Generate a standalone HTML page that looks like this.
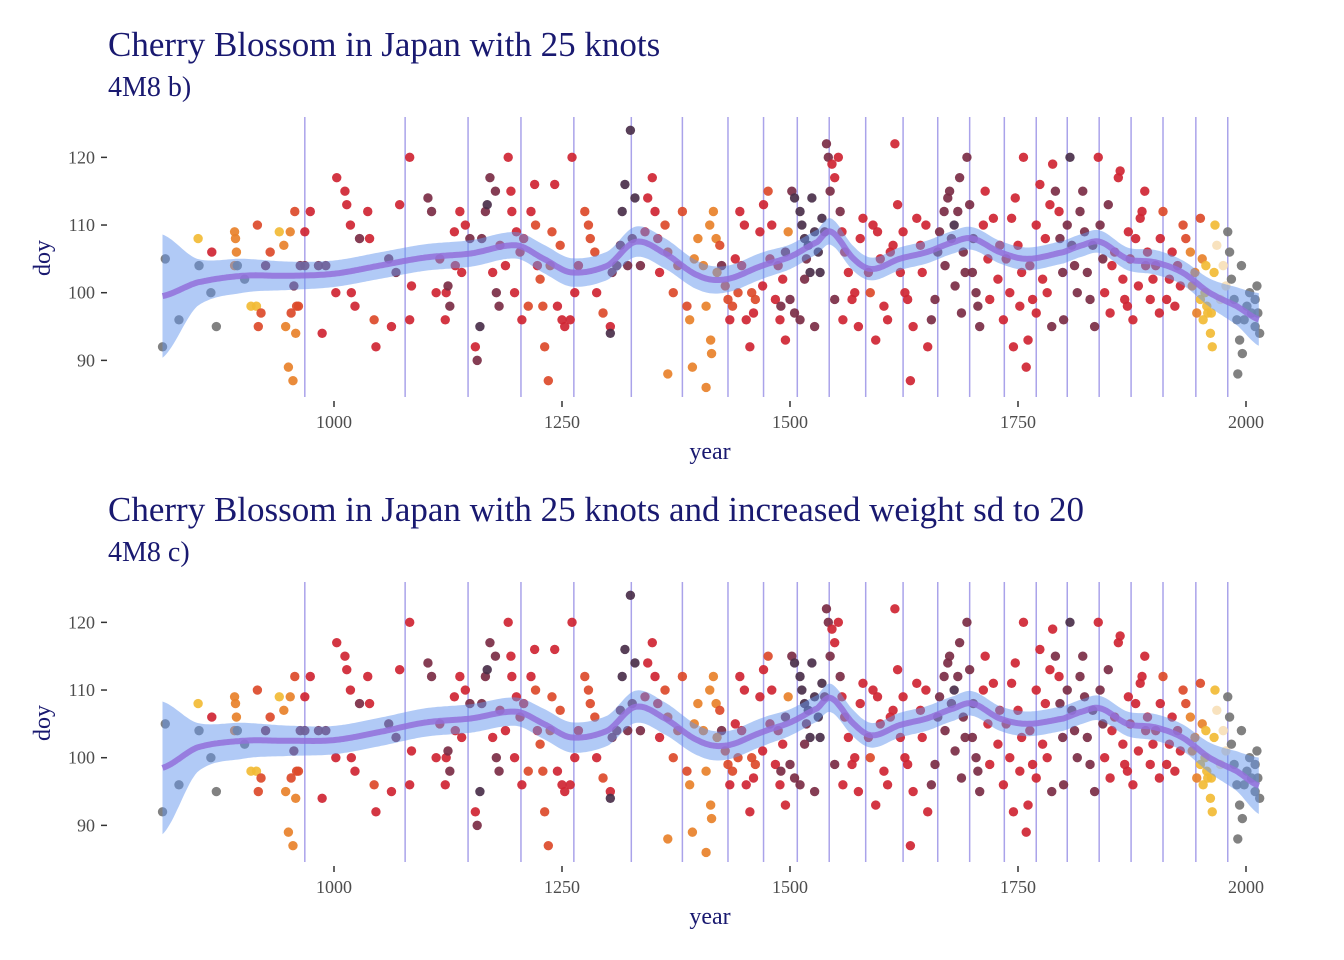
<!DOCTYPE html>
<html><head><meta charset="utf-8">
<style>
html,body{margin:0;padding:0;background:#fff;}
svg{display:block;}
</style></head>
<body>
<svg id="chart" width="1344" height="960" viewBox="0 0 1344 960" xmlns="http://www.w3.org/2000/svg"></svg>
<script>
// ---- data ----
const years = [812,815,830,851,852,866,865,871,891,892,893,891,894,902,909,915,916,917,920,925,930,940,945,947,950,952,953,955,956,957,958,959,961,963,968,974,968,983,987,991,1003,1012,1014,1018,1019,1002,1023,1028,1037,1039,1044,1046,1060,1063,1068,1072,1083,1083,1085,
1103,1107,1112,1116,1122,1123,1125,1127,1132,1133,1138,1140,1144,1149,1155,1157,1160,1162,1166,1168,1171,1174,1177,1178,1181,1182,1188,1191,1194,1195,1198,1200,1204,1206,1208,1213,1216,1220,1221,1223,1226,1229,1231,1235,1237,1239,1242,1245,1248,1250,1253,1259,1261,1264,1268,1275,1279,1281,1286,1288,1295,1303,1303,1305,1310,1314,1316,1319,1322,1325,1327,1330,1336,1341,1344,1349,1352,1355,1357,1363,1366,1366,1372,1377,1382,1387,1390,1393,1395,1399,1405,1408,1412,
1416,1419,1423,1425,1408,1413,1414,1429,1432,1434,1440,1443,1445,1450,1452,1456,1458,1462,1467,1471,1476,1478,1484,1487,1489,1492,1495,1498,1420,1437,1447,1460,1470,1480,1490,1495,
1502,1505,1511,1513,1516,1520,1518,1522,1524,1527,1531,1533,1535,1538,1500,1505,1511,1516,1527,1540,1542,1546,1549,1544,1553,1555,1557,1560,1549,1558,1564,
1568,1571,1575,1577,1580,1586,1588,1591,1594,1596,1599,1603,1607,1610,1613,1615,1618,1621,1624,1626,1629,1632,1635,1639,1643,1645,1649,1651,
1659,1662,1664,1669,1673,1675,1677,1681,1684,1686,1690,1692,1694,1697,1701,1704,1706,1708,1712,1714,1717,1719,1723,1655,1670,1680,1700,1688,
1728,1730,1734,1737,1741,1743,1747,1750,1752,1754,1756,1761,1759,1763,1766,1770,1774,1777,1780,1785,1787,1791,1788,1796,1799,1800,1745,1770,1782,1795,
1804,1807,1809,1812,1815,1818,1821,1823,1826,1829,1832,1834,1838,1840,1843,1845,1849,1851,
1853,1856,1860,1862,1865,1867,1871,1873,1876,1879,1882,1884,1886,1889,1892,1895,1898,1901,1906,1909,1913,1916,1919,1922,1925,1931,1934,1870,1890,1905,1928,
1939,1941,1944,1946,1950,1952,1950,
1955,1957,1958,1961,1963,1965,1966,1968,1972,1975,1978,1956,1953,1962,
1980,1982,1984,1987,1990,1991,1993,1996,1998,2001,2004,2006,2010,2012,2013,2015,2010,1995];
const doys = [92,105,96,108,104,106,100,95,109,108,106,104,104,102,98,98,110,95,97,104,106,109,107,95,89,109,97,87,101,112,94,98,98,104,109,112,104,104,94,104,117,115,113,110,100,100,98,108,112,108,96,92,105,95,103,113,120,96,101,
114,112,100,105,96,100,101,98,109,104,112,103,110,108,92,90,95,108,112,113,117,103,115,100,98,107,104,120,115,112,100,109,106,96,108,98,112,116,110,104,102,98,92,87,104,109,116,98,107,96,95,96,120,100,104,112,110,108,106,100,97,95,94,103,104,107,112,116,104,124,108,114,104,109,114,117,112,108,103,110,106,88,100,104,112,98,96,89,105,108,104,86,110,
112,108,107,104,98,93,91,101,99,96,105,100,112,110,96,92,100,99,109,113,115,105,99,104,96,102,93,109,103,98,104,97,101,110,98,106,
115,114,112,110,108,107,105,103,114,109,106,103,111,109,99,97,96,102,95,122,120,119,117,115,120,112,109,106,99,96,103,
99,100,95,108,111,103,100,110,93,109,105,98,96,106,107,122,113,103,109,100,99,87,95,111,107,103,110,92,
99,106,109,112,114,115,108,101,112,117,106,103,120,113,108,100,98,95,110,115,105,99,111,96,104,110,103,97,
102,107,96,105,100,111,114,107,98,103,120,93,89,104,99,110,116,102,108,113,95,115,119,108,103,96,92,97,100,112,
110,120,107,104,100,112,115,109,103,99,107,95,120,110,105,100,113,97,
104,106,117,118,102,99,109,105,96,108,101,111,112,115,106,99,102,104,108,112,99,102,106,98,104,110,108,98,104,97,101,
106,101,103,97,99,105,111,
100,98,97,94,92,103,110,107,99,104,101,104,96,97,
109,106,102,99,96,88,93,91,96,98,100,97,95,101,97,94,99,104];
const colorCodes = [0,0,0,6,0,3,0,0,5,5,5,5,0,0,6,6,4,4,4,2,4,6,5,5,5,5,4,5,2,4,5,4,4,2,3,3,2,2,3,2,3,3,3,3,3,3,3,2,3,3,4,3,2,3,2,3,3,3,3,
2,2,3,3,3,3,2,2,3,3,3,3,3,2,3,2,1,2,2,1,2,3,2,2,2,3,3,3,3,3,3,3,3,3,3,4,3,3,4,3,4,4,4,4,4,4,3,3,4,3,3,3,3,3,3,4,4,4,4,3,4,3,1,2,2,2,1,1,2,1,2,1,2,3,3,3,3,3,3,4,4,5,4,4,4,4,5,5,5,5,5,5,5,
5,5,4,2,5,5,5,4,4,3,3,4,3,3,3,3,4,4,3,3,4,3,3,3,3,3,3,5,5,4,3,3,3,3,2,2,
2,1,1,1,1,1,2,1,1,1,1,1,1,2,2,2,2,2,2,2,2,3,3,2,3,2,3,3,2,3,3,
3,3,3,3,3,3,4,3,3,3,3,3,3,3,3,3,3,3,3,3,3,3,3,3,3,3,3,3,
2,2,2,2,2,2,2,2,2,2,2,2,2,2,2,2,2,2,3,3,3,3,3,2,2,1,2,2,
3,3,3,3,3,3,3,3,3,3,3,3,3,3,3,3,3,3,3,3,2,2,3,2,2,2,3,3,3,3,
2,1,2,2,2,2,2,2,2,2,2,2,3,2,2,3,2,3,
3,3,3,3,3,3,3,3,3,3,3,3,3,3,3,3,3,3,3,4,3,3,3,3,3,4,4,3,3,3,3,
5,5,5,5,6,5,4,
6,6,6,6,6,6,6,7,7,7,7,6,6,6,
0,0,0,0,0,0,0,0,0,0,0,0,0,0,0,0,0,0];
const knotYears = [968,1078,1147,1205,1263,1326,1382,1432,1471,1508,1543,1583,1624,1662,1697,1735,1770,1804,1839,1874,1909,1945,1980];
const smoothYears = [812,850,900,950,1000,1050,1100,1150,1200,1230,1260,1300,1330,1360,1400,1430,1470,1500,1530,1545,1570,1590,1620,1650,1680,1700,1730,1760,1800,1820,1840,1870,1900,1930,1960,1990,2015];
const muB = [99.5,101.5,102.5,102.5,102.8,104,105.2,105.8,107,105,103,104,107.5,106,102.5,102,104,105.3,107.5,109,105,103.5,105,106,107.5,108,106,105,106,107,107.5,105,104.5,103,100,98,96];
const seB = [6.5,2.5,1.8,1.5,1.4,1.4,1.4,1.4,1.4,1.5,1.5,1.5,1.6,1.6,1.5,1.4,1.4,1.3,1.3,1.4,1.3,1.2,1.2,1.2,1.2,1.2,1.2,1.2,1.2,1.2,1.2,1.2,1.3,1.3,1.5,2,2.8];
const muC = [98.5,101.5,102.5,102.5,102.6,103.8,105.2,105.8,106.8,105,103,104,107.5,106,102.5,101.8,103.8,105.2,107.3,108.8,105,103.3,104.8,105.8,107.3,108,105.8,105,105.8,106.8,107.3,105,104.5,103,100,98,95.8];
const seC = [7,2.6,1.9,1.6,1.5,1.5,1.5,1.5,1.5,1.6,1.6,1.6,1.7,1.7,1.6,1.5,1.5,1.4,1.4,1.5,1.4,1.3,1.3,1.3,1.3,1.3,1.3,1.3,1.3,1.3,1.3,1.3,1.4,1.4,1.6,2.1,3];
const yTicks = [90,100,110,120];
const xTicks = [1000,1250,1500,1750,2000];
const palette = ['#767676','#4a2f4a','#7b2d45','#cf2533','#dc4a2a','#e8812a','#f2bb35','#f7dfb8'];

// ---- scales ----
const NS = 'http://www.w3.org/2000/svg';
const svg = document.getElementById('chart');
function xs(year){ return 334 + (year - 1000) * 0.912; }
function ysF(off){ return v => 292.7 + off - (v - 100) * 6.767; }
function mk(tag, attrs, parent){
  const e = document.createElementNS(NS, tag);
  for (const k in attrs) e.setAttribute(k, attrs[k]);
  parent.appendChild(e); return e;
}
function interp(xsArr, vals, x){
  let i = 0;
  while (i < xsArr.length - 2 && x > xsArr[i+1]) i++;
  const p0 = vals[Math.max(i-1,0)], p1 = vals[i], p2 = vals[i+1], p3 = vals[Math.min(i+2, vals.length-1)];
  const t = (x - xsArr[i]) / (xsArr[i+1] - xsArr[i]);
  const t2 = t*t, t3 = t2*t;
  return 0.5*((2*p1)+(-p0+p2)*t+(2*p0-5*p1+4*p2-p3)*t2+(-p0+3*p1-3*p2+p3)*t3);
}
const BAND_SCALE = 1.4;

function panel(off, title, subtitle, mu, se, key){
  const y = ysF(off);
  const g = mk('g', {}, svg);
  
  
  const t = mk('text', {x:108, y:56+off, 'font-family':'"Liberation Serif", serif', 'font-size':35, fill:'#191970'}, g);
  t.textContent = title;
  
  
  const st = mk('text', {x:108, y:96+off, 'font-family':'"Liberation Serif", serif', 'font-size':28, fill:'#191970'}, g);
  st.textContent = subtitle;
  
  
  yTicks.forEach(v => {
    const l = mk('line', {x1:101, x2:107, y1:y(v), y2:y(v), stroke:'#333', 'stroke-width':1.5}, g);
    
    
    const tx = mk('text', {x:95, y:y(v)+6, 'text-anchor':'end', 'font-family':'"Liberation Serif", serif', 'font-size':18, fill:'#4d4d4d'}, g);
    tx.textContent = v;
    
    
  });
  xTicks.forEach(v => {
    const l = mk('line', {x1:xs(v), x2:xs(v), y1:401+off, y2:407+off, stroke:'#333', 'stroke-width':1.5}, g);
    
    
    const tx = mk('text', {x:xs(v), y:428+off, 'text-anchor':'middle', 'font-family':'"Liberation Serif", serif', 'font-size':18, fill:'#4d4d4d'}, g);
    tx.textContent = v;
    
    
  });
  const xl = mk('text', {x:710, y:459+off, 'text-anchor':'middle', 'font-family':'"Liberation Serif", serif', 'font-size':24, fill:'#191970'}, g);
  xl.textContent = 'year';
  
  
  const yl = mk('text', {x:0, y:0, transform:'translate(50,'+(258+off)+') rotate(-90)', 'text-anchor':'middle', 'font-family':'"Liberation Serif", serif', 'font-size':24, fill:'#191970'}, g);
  yl.textContent = 'doy';
  
  
  knotYears.forEach(k => {
    const l = mk('line', {x1:xs(k), x2:xs(k), y1:117+off, y2:397+off, stroke:'#aaa3ea', 'stroke-width':1.5}, g);
    
    
  });
  years.forEach((yr, i) => {
    const c = mk('circle', {cx:xs(yr), cy:y(doys[i]), r:4.7, fill:palette[colorCodes[i]], 'fill-opacity':0.92}, g);
    
    
  });
  const up = [], lo = [], mid = [];
  for (let yr = smoothYears[0]; yr <= smoothYears[smoothYears.length-1]; yr += 2){
    const m = interp(smoothYears, mu, yr), s = interp(smoothYears, se, yr) * BAND_SCALE;
    up.push(xs(yr).toFixed(1)+','+y(m+s).toFixed(1));
    lo.push(xs(yr).toFixed(1)+','+y(m-s).toFixed(1));
    mid.push(xs(yr).toFixed(1)+','+y(m).toFixed(1));
  }
  const band = mk('polygon', {points: up.concat(lo.reverse()).join(' '), fill:'#6495ed', 'fill-opacity':0.5}, g);
  
  
  const line = mk('polyline', {points: mid.join(' '), fill:'none', stroke:'#9370db', 'stroke-width':6, 'stroke-opacity':0.85, 'stroke-linejoin':'round'}, g);
  
  
}
panel(0, 'Cherry Blossom in Japan with 25 knots', '4M8 b)', muB, seB, 'b');
panel(465, 'Cherry Blossom in Japan with 25 knots and increased weight sd to 20', '4M8 c)', muC, seC, 'c');
</script>
</body></html>
